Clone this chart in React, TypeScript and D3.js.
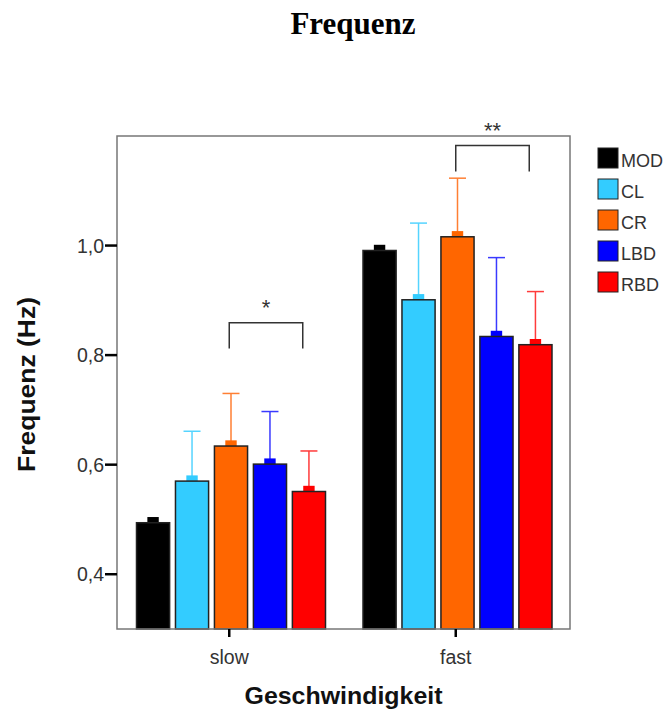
import React from "react";
import * as d3 from "d3";

const groups = ["slow", "fast"];
const series = ["MOD", "CL", "CR", "LBD", "RBD"];
const colors = ["#000000", "#33ccff", "#ff6600", "#0000ff", "#ff0000"];
const errColors = ["#000000", "#55d4ff", "#ff7f33", "#3a3aff", "#ff3b3b"];
const meansSlow = [0.494, 0.570, 0.634, 0.601, 0.551];
const meansFast = [0.991, 0.901, 1.016, 0.834, 0.819];
const upperSlow = [0.494, 0.661, 0.730, 0.697, 0.625];
const upperFast = [0.991, 1.041, 1.123, 0.978, 0.916];
const yTicks = [0.4, 0.6, 0.8, 1.0];
const brackets = [
  { group: "slow", top: 0.859, bottom: 0.812, label: "*" },
  { group: "fast", top: 1.1825, bottom: 1.135, label: "**" },
];

export default function App() {
  const W = 672, H = 713;
  const left = 117, right = 570, top = 136, bottom = 629;
  const y = d3.scaleLinear().domain([0.3, 1.2]).range([bottom, top]);
  const x0 = d3.scaleBand<string>().domain(groups).range([left, right]).padding(0);
  const x1 = d3.scaleBand<string>().domain(series).range([19.5, 208.5]).paddingInner(0.15).paddingOuter(0);
  const means = [meansSlow, meansFast];
  const uppers = [upperSlow, upperFast];
  const fmt = (v: number) => d3.format(".1f")(v).replace(".", ",");
  const bw = x1.bandwidth();
  const sans = "'Liberation Sans', Arial, sans-serif";

  return (
    <svg width={W} height={H} style={{ position: "absolute", left: 0, top: 0, background: "#fff" }}>
      <text x={353} y={34} textAnchor="middle" fontFamily="'Liberation Serif', 'Times New Roman', serif" fontWeight="bold" fontSize={31} fill="#000">Frequenz</text>

      {groups.map((g, gi) => (
        <g key={g} transform={`translate(${x0(g)},0)`}>
          {series.map((s, si) => {
            const v = means[gi][si];
            const u = uppers[gi][si];
            const bx = x1(s)!;
            const cx = bx + bw / 2;
            return (
              <g key={s}>
                {u > v + 0.001 && (
                  <g stroke={errColors[si]} strokeWidth={1.5}>
                    <line x1={cx} x2={cx} y1={y(v)} y2={y(u)} />
                    <line x1={cx - 8.5} x2={cx + 8.5} y1={y(u)} y2={y(u)} />
                  </g>
                )}
                <rect x={cx - 5.7} y={y(v) - 5.7} width={11.4} height={5.7} fill={colors[si]} />
                <rect x={bx} y={y(v)} width={bw} height={bottom - y(v)} fill={colors[si]} stroke="#222" strokeWidth={1.5} />
              </g>
            );
          })}
        </g>
      ))}

      {brackets.map((b) => {
        const cx = x0(b.group)! + x0.bandwidth() / 2;
        const xa = cx - 1, xb = cx + 72.5;
        return (
          <g key={b.group}>
            <path d={`M${xa},${y(b.bottom)}V${y(b.top)}H${xb}V${y(b.bottom)}`} fill="none" stroke="#333" strokeWidth={1.5} />
            <text x={(xa + xb) / 2} y={y(b.top) - 8} textAnchor="middle" fontFamily={sans} fontSize={22} fill="#333">{b.label}</text>
          </g>
        );
      })}

      <rect x={left} y={top} width={right - left} height={bottom - top} fill="none" stroke="#777" strokeWidth={1.5} />

      {yTicks.map((t) => (
        <g key={t}>
          <line x1={105} x2={left} y1={y(t)} y2={y(t)} stroke="#000" strokeWidth={2.5} />
          <text x={104} y={y(t) + 7} textAnchor="end" fontFamily={sans} fontSize={19.5} fill="#333">{fmt(t)}</text>
        </g>
      ))}
      {groups.map((g) => {
        const cx = x0(g)! + x0.bandwidth() / 2 - 1;
        return (
          <g key={g}>
            <line x1={cx} x2={cx} y1={bottom} y2={bottom + 8} stroke="#000" strokeWidth={2.5} />
            <text x={cx} y={664} textAnchor="middle" fontFamily={sans} fontSize={19.5} fill="#333">{g}</text>
          </g>
        );
      })}

      <text x={(left + right) / 2} y={704} textAnchor="middle" fontFamily={sans} fontWeight="bold" fontSize={24} fill="#111" textLength={198} lengthAdjust="spacingAndGlyphs">Geschwindigkeit</text>
      <text transform={`translate(35,${(top + bottom) / 2 + 2}) rotate(-90)`} textAnchor="middle" fontFamily={sans} fontWeight="bold" fontSize={24} fill="#111" textLength={175} lengthAdjust="spacingAndGlyphs">Frequenz (Hz)</text>

      {series.map((s, i) => (
        <g key={s} transform={`translate(598,${148 + i * 31})`}>
          <rect x={0} y={0} width={20} height={20} fill={colors[i]} stroke="#222" strokeWidth={1} />
          <text x={23} y={19} fontFamily={sans} fontSize={18} fill="#333">{s}</text>
        </g>
      ))}
    </svg>
  );
}
